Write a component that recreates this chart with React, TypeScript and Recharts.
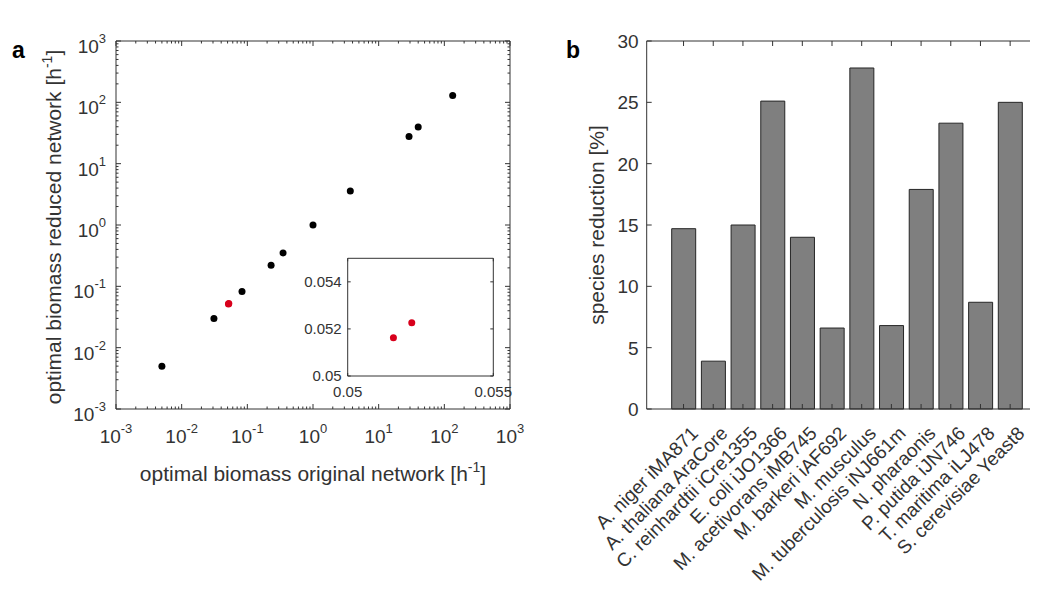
import React from 'react';
import { ScatterChart, Scatter, XAxis, YAxis, BarChart, Bar } from 'recharts';

// panel a: log-log axes
const logMajor = [0.001, 0.01, 0.1, 1, 10, 100, 1000];
const logExponents = ['-3', '-2', '-1', '0', '1', '2', '3'];
const logMinor = logMajor.slice(0, -1).flatMap((d) => [2, 3, 4, 5, 6, 7, 8, 9].map((m) => m * d));
const logTicks = [...logMajor, ...logMinor];

const origBiomass = [0.005, 0.031, 0.083, 0.23, 0.35, 1.0, 3.7, 29, 40, 134];
const reducedBiomass = [0.005, 0.03, 0.082, 0.22, 0.35, 1.0, 3.6, 27.6, 39.6, 129];
const origBiomassRed = [0.05157, 0.0522];
const reducedBiomassRed = [0.05162, 0.05226];

const insetXTicks = [0.05, 0.055];
const insetYTicks = [0.05, 0.052, 0.054];

// panel b
const species = [
  'A. niger iMA871',
  'A. thaliana AraCore',
  'C. reinhardtii iCre1355',
  'E. coli iJO1366',
  'M. acetivorans iMB745',
  'M. barkeri iAF692',
  'M. musculus',
  'M. tuberculosis iNJ661m',
  'N. pharaonis',
  'P. putida iJN746',
  'T. maritima iLJ478',
  'S. cerevisiae Yeast8',
];
const speciesReduction = [14.7, 3.9, 15.0, 25.1, 14.0, 6.6, 27.8, 6.8, 17.9, 23.3, 8.7, 25.0];
const reductionTicks = [0, 5, 10, 15, 20, 25, 30];

const AXIS = '#333';
const TEXT = '#333';
const FONT = '"Liberation Sans", Arial, Helvetica, sans-serif';

const blackPoints = origBiomass.map((x, i) => ({ x, y: reducedBiomass[i] }));
const redPoints = origBiomassRed.map((x, i) => ({ x, y: reducedBiomassRed[i] }));
const barData = species.map((name, i) => ({ name, value: speciesReduction[i] }));

const isMajor = (v: number) => logMajor.includes(v);
const expOf = (v: number) => logExponents[logMajor.indexOf(v)];

const LogBottomTick = ({ x, y, payload }: any) => {
  const major = isMajor(payload.value);
  return (
    <g>
      <line x1={x} x2={x} y1={y} y2={y - (major ? 5 : 2.5)} stroke={AXIS} />
      {major && (
        <text x={x} y={y + 34} textAnchor="middle" fontSize={19} fill={TEXT} fontFamily={FONT}>
          <tspan>10</tspan>
          <tspan dy={-10} fontSize={13}>{expOf(payload.value)}</tspan>
        </text>
      )}
    </g>
  );
};

const LogTopTick = ({ x, y, payload }: any) => (
  <line x1={x} x2={x} y1={y} y2={y + (isMajor(payload.value) ? 5 : 2.5)} stroke={AXIS} />
);

const LogLeftTick = ({ x, y, payload }: any) => {
  const major = isMajor(payload.value);
  return (
    <g>
      <line x1={x} x2={x + (major ? 5 : 2.5)} y1={y} y2={y} stroke={AXIS} />
      {major && (
        <text x={x - 10} y={y + 12} textAnchor="end" fontSize={19} fill={TEXT} fontFamily={FONT}>
          <tspan>10</tspan>
          <tspan dy={-10} fontSize={13}>{expOf(payload.value)}</tspan>
        </text>
      )}
    </g>
  );
};

const LogRightTick = ({ x, y, payload }: any) => (
  <line x1={x} x2={x - (isMajor(payload.value) ? 5 : 2.5)} y1={y} y2={y} stroke={AXIS} />
);

const InsetBottomTick = ({ x, y, payload }: any) => (
  <g>
    <line x1={x} x2={x} y1={y} y2={y - 3} stroke={AXIS} />
    <text x={x} y={y + 21} textAnchor="middle" fontSize={15} fill={TEXT} fontFamily={FONT}>
      {String(payload.value)}
    </text>
  </g>
);

const InsetLeftTick = ({ x, y, payload }: any) => (
  <g>
    <line x1={x} x2={x + 3} y1={y} y2={y} stroke={AXIS} />
    <text x={x - 6} y={y + 5} textAnchor="end" fontSize={15} fill={TEXT} fontFamily={FONT}>
      {String(payload.value)}
    </text>
  </g>
);

const LineTopTick = ({ x, y }: any) => <line x1={x} x2={x} y1={y} y2={y + 3} stroke={AXIS} />;
const LineRightTick = ({ x, y }: any) => <line x1={x} x2={x - 3} y1={y} y2={y} stroke={AXIS} />;

const SpeciesTick = ({ x, y, payload }: any) => {
  const tx = x + 11;
  const ty = y + 21;
  return (
    <g>
      <line x1={x} x2={x} y1={y} y2={y - 5} stroke={AXIS} />
      <text
        x={tx}
        y={ty}
        textAnchor="end"
        dominantBaseline="central"
        transform={`rotate(-45 ${tx} ${ty})`}
        fontSize={19}
        fill={TEXT}
        fontFamily={FONT}
      >
        {payload.value}
      </text>
    </g>
  );
};

const BarTopTick = ({ x, y }: any) => <line x1={x} x2={x} y1={y} y2={y + 5} stroke={AXIS} />;

const BarLeftTick = ({ x, y, payload }: any) => (
  <g>
    <line x1={x} x2={x + 5} y1={y} y2={y} stroke={AXIS} />
    <text x={x - 8} y={y + 7} textAnchor="end" fontSize={19} fill={TEXT} fontFamily={FONT}>
      {payload.value}
    </text>
  </g>
);

const dot = (color: string) => (p: any) => <circle cx={p.cx} cy={p.cy} r={3.5} fill={color} />;

const RED = '#d8001c';

// shared props for the thin (1px) frame axes whose ticks point inward
const frameX = { interval: 0 as const, tickSize: 0, tickMargin: 0, tickLine: false, height: 1, axisLine: { stroke: AXIS } };
const frameY = { interval: 0 as const, tickSize: 0, tickMargin: 0, tickLine: false, width: 1, axisLine: { stroke: AXIS } };

export default function App() {
  return (
    <div
      style={{
        position: 'relative',
        width: 1038,
        height: 590,
        margin: -8,
        overflow: 'hidden',
        background: '#fff',
        fontFamily: FONT,
      }}
    >
      {/* panel a */}
      <div style={{ position: 'absolute', left: 0, top: 0 }}>
        <ScatterChart width={530} height={590} margin={{ top: 40, right: 19, bottom: 180, left: 115 }}>
          <XAxis xAxisId="b" dataKey="x" type="number" scale="log" domain={[0.001, 1000]} allowDataOverflow
            ticks={logTicks} {...frameX} tick={<LogBottomTick />} />
          <XAxis xAxisId="t" orientation="top" dataKey="x" type="number" scale="log" domain={[0.001, 1000]}
            allowDataOverflow ticks={logTicks} {...frameX} tick={<LogTopTick />} />
          <YAxis yAxisId="l" dataKey="y" type="number" scale="log" domain={[0.001, 1000]} allowDataOverflow
            ticks={logTicks} {...frameY} tick={<LogLeftTick />} />
          <YAxis yAxisId="r" orientation="right" dataKey="y" type="number" scale="log" domain={[0.001, 1000]}
            allowDataOverflow ticks={logTicks} {...frameY} tick={<LogRightTick />} />
          <Scatter xAxisId="b" yAxisId="l" data={blackPoints} shape={dot('#000')} isAnimationActive={false} />
          <Scatter xAxisId="b" yAxisId="l" data={redPoints} shape={dot(RED)} isAnimationActive={false} />
        </ScatterChart>
      </div>

      {/* inset */}
      <div style={{ position: 'absolute', left: 290, top: 240 }}>
        <ScatterChart width={240} height={170} margin={{ top: 17.3, right: 35.7, bottom: 33, left: 56.7 }}>
          <XAxis xAxisId="b" dataKey="x" type="number" domain={[0.05, 0.055]} allowDataOverflow
            ticks={insetXTicks} {...frameX} tick={<InsetBottomTick />} />
          <XAxis xAxisId="t" orientation="top" dataKey="x" type="number" domain={[0.05, 0.055]} allowDataOverflow
            ticks={insetXTicks} {...frameX} tick={<LineTopTick />} />
          <YAxis yAxisId="l" dataKey="y" type="number" domain={[0.05, 0.055]} allowDataOverflow
            ticks={insetYTicks} {...frameY} tick={<InsetLeftTick />} />
          <YAxis yAxisId="r" orientation="right" dataKey="y" type="number" domain={[0.05, 0.055]} allowDataOverflow
            ticks={insetYTicks} {...frameY} tick={<LineRightTick />} />
          <Scatter xAxisId="b" yAxisId="l" data={redPoints} shape={dot(RED)} isAnimationActive={false} />
        </ScatterChart>
      </div>

      {/* panel b */}
      <div style={{ position: 'absolute', left: 530, top: 0 }}>
        <BarChart width={520} height={590} data={barData} margin={{ top: 40, right: 0, bottom: 180, left: 115.7 }}
          barSize={24}>
          <XAxis xAxisId="b" dataKey="name" padding={{ left: 22, right: 25 }} {...frameX} tick={<SpeciesTick />} />
          <XAxis xAxisId="t" orientation="top" dataKey="name" padding={{ left: 22, right: 25 }} {...frameX}
            tick={<BarTopTick />} />
          <YAxis yAxisId="l" type="number" domain={[0, 30]} ticks={reductionTicks} {...frameY}
            tick={<BarLeftTick />} />
          <Bar xAxisId="b" yAxisId="l" dataKey="value" fill="#7f7f7f" stroke="#262626" strokeWidth={1}
            isAnimationActive={false} />
        </BarChart>
      </div>

      {/* titles and panel letters */}
      <svg width={1038} height={590} style={{ position: 'absolute', left: 0, top: 0, pointerEvents: 'none' }}
        fontFamily={FONT}>
        <text x={12} y={58} fontSize={23} fontWeight="bold" fill="#000">a</text>
        <text x={566} y={58} fontSize={23} fontWeight="bold" fill="#000">b</text>
        <text x={313} y={481} textAnchor="middle" fontSize={21} fill={TEXT}>
          optimal biomass original network [h<tspan dy={-9} fontSize={14}>-1</tspan>
          <tspan dy={9} fontSize={21}>]</tspan>
        </text>
        <text x={61} y={227} textAnchor="middle" fontSize={21} fill={TEXT} transform="rotate(-90 61 227)">
          optimal biomass reduced network [h<tspan dy={-9} fontSize={14}>-1</tspan>
          <tspan dy={9} fontSize={21}>]</tspan>
        </text>
        <text x={604} y={225} textAnchor="middle" fontSize={21} fill={TEXT} transform="rotate(-90 604 225)">
          species reduction [%]
        </text>
      </svg>
    </div>
  );
}
